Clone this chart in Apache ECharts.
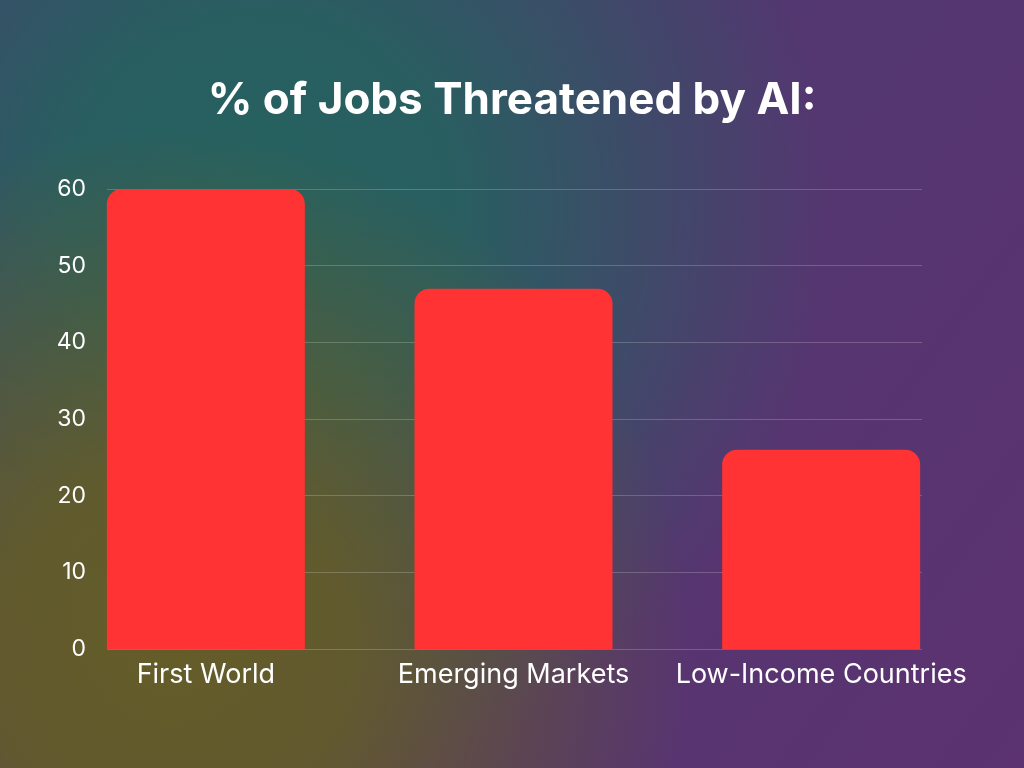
<!DOCTYPE html>
<html>
<head>
<meta charset="utf-8">
<script src="https://cdn.jsdelivr.net/npm/echarts@6/dist/echarts.min.js"></script>
<style>
html,body{margin:0;padding:0;width:1024px;height:768px;overflow:hidden;}
#c{width:1024px;height:768px;}
</style>
</head>
<body>
<div id="c"></div>
<script>
var categories = ['First World', 'Emerging Markets', 'Low-Income Countries'];
var values = [60, 47, 26];
var titleText = '% of Jobs Threatened by AI:';
var yMin = 0, yMax = 60, yStep = 10;

var chart = echarts.init(document.getElementById('c'));
var font = 'Inter, "Open Sans", sans-serif';

function radial(cx, cy, r, rgb) {
  return {
    type: 'rect', z: -10, silent: true,
    shape: {x: 0, y: 0, width: 1024, height: 768},
    style: {
      fill: new echarts.graphic.RadialGradient(cx, cy, r, [
        {offset: 0, color: 'rgba(' + rgb + ',1)'},
        {offset: 0.35, color: 'rgba(' + rgb + ',0.9)'},
        {offset: 1, color: 'rgba(' + rgb + ',0)'}
      ], true)
    }
  };
}

chart.setOption({
  backgroundColor: new echarts.graphic.LinearGradient(0, 0, 1, 1, [
    {offset: 0, color: '#4a3c70'},
    {offset: 1, color: '#5c3270'}
  ]),
  graphic: [
    radial(260, 210, 570, '37,98,95'),
    radial(170, 650, 520, '100,92,40')
  ],
  title: {
    text: titleText,
    left: 'center',
    top: 74,
    textStyle: {color: '#ffffff', fontSize: 44, fontWeight: 'bold', fontFamily: font}
  },
  grid: [
    {left: 52, right: 49, top: 189, bottom: 119},
    {left: 107, right: 102, top: 189, bottom: 119}
  ],
  xAxis: [
    {
      type: 'category', gridIndex: 0, data: categories,
      axisLine: {show: false}, axisTick: {show: false},
      axisLabel: {color: '#ffffff', fontSize: 27, fontFamily: font, margin: 12, interval: 0}
    },
    {
      type: 'value', gridIndex: 1, show: false
    }
  ],
  yAxis: [
    {
      type: 'value', gridIndex: 0, min: yMin, max: yMax, interval: yStep,
      show: false
    },
    {
      type: 'value', gridIndex: 1, min: yMin, max: yMax, interval: yStep,
      axisLine: {show: false}, axisTick: {show: false},
      axisLabel: {color: '#ffffff', fontSize: 23, fontFamily: font, margin: 21, padding: [3, 0, 0, 0]},
      splitLine: {lineStyle: {color: 'rgba(255,255,255,0.2)', width: 1}}
    }
  ],
  series: [{
    type: 'bar',
    xAxisIndex: 0, yAxisIndex: 0,
    data: values,
    barWidth: 198,
    itemStyle: {color: '#ff3333', borderRadius: [15, 15, 0, 0]},
    z: 5
  }]
});
</script>
</body>
</html>
